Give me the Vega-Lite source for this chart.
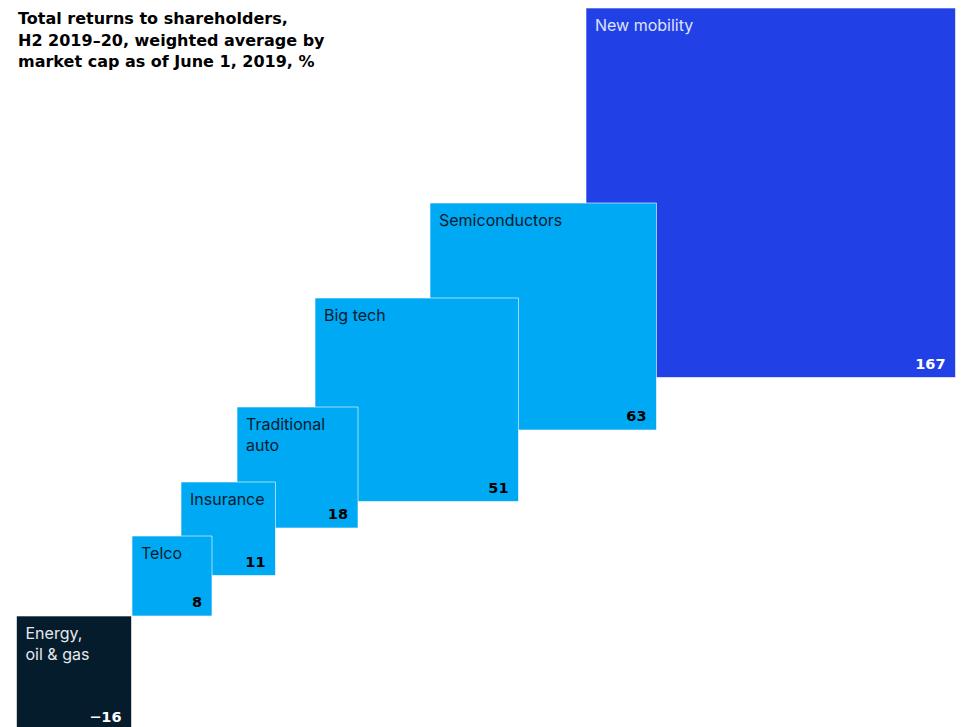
{
  "$schema": "https://vega.github.io/schema/vega-lite/v6.json",
  "width": 962,
  "height": 727,
  "padding": 0,
  "autosize": {"type": "none"},
  "background": "#ffffff",
  "config": {"view": {"stroke": null}, "font": "Inter"},
  "title": {
    "text": ["Total returns to shareholders,", "H2 2019–20, weighted average by", "market cap as of June 1, 2019, %"],
    "anchor": "start",
    "frame": "group",
    "font": "DejaVu Sans",
    "fontSize": 16,
    "fontWeight": "bold",
    "color": "#000000",
    "lineHeight": 21.5,
    "offset": 0,
    "dx": 18,
    "dy": 70
  },
  "data": {
    "values": [
      {"sector": "New mobility", "label": "New mobility", "value": 167, "x0": 58.6, "x1": 95.55, "y0": 34.95, "y1": 71.9},
      {"sector": "Semiconductors", "label": "Semiconductors", "value": 63, "x0": 43.0, "x1": 65.65, "y0": 29.7, "y1": 52.4},
      {"sector": "Big tech", "label": "Big tech", "value": 51, "x0": 31.5, "x1": 51.85, "y0": 22.55, "y1": 42.9},
      {"sector": "Traditional auto", "label": "Traditional\nauto", "value": 18, "x0": 23.7, "x1": 35.8, "y0": 19.9, "y1": 32.0},
      {"sector": "Insurance", "label": "Insurance", "value": 11, "x0": 18.1, "x1": 27.55, "y0": 15.15, "y1": 24.5},
      {"sector": "Telco", "label": "Telco", "value": 8, "x0": 13.2, "x1": 21.2, "y0": 11.1, "y1": 19.1},
      {"sector": "Energy, oil & gas", "label": "Energy,\noil & gas", "value": -16, "x0": 1.65, "x1": 13.15, "y0": -0.4, "y1": 11.1}
    ]
  },
  "resolve": {"scale": {"color": "independent"}},
  "layer": [
    {
      "mark": {"type": "rect", "stroke": "#ffffff", "strokeWidth": 1, "strokeOpacity": 0.6, "clip": true},
      "encoding": {
        "x": {"field": "x0", "type": "quantitative", "scale": {"domain": [0, 96.2], "nice": false, "zero": false}, "axis": null},
        "x2": {"field": "x1"},
        "y": {"field": "y0", "type": "quantitative", "scale": {"domain": [0, 72.7], "nice": false, "zero": false}, "axis": null},
        "y2": {"field": "y1"},
        "color": {
          "field": "sector", "type": "nominal", "legend": null,
          "scale": {
            "domain": ["New mobility", "Semiconductors", "Big tech", "Traditional auto", "Insurance", "Telco", "Energy, oil & gas"],
            "range": ["#2140e6", "#00a9f4", "#00a9f4", "#00a9f4", "#00a9f4", "#00a9f4", "#051c2c"]
          }
        }
      }
    },
    {
      "mark": {"type": "text", "align": "left", "baseline": "top", "dx": 9, "dy": 9.5, "fontSize": 16, "lineBreak": "\n", "lineHeight": 21.5},
      "encoding": {
        "x": {"field": "x0", "type": "quantitative"},
        "y": {"field": "y1", "type": "quantitative"},
        "text": {"field": "label"},
        "color": {
          "field": "sector", "type": "nominal", "legend": null,
          "scale": {
            "domain": ["New mobility", "Semiconductors", "Big tech", "Traditional auto", "Insurance", "Telco", "Energy, oil & gas"],
            "range": ["#dfe3fb", "#051c2c", "#051c2c", "#051c2c", "#051c2c", "#051c2c", "#e6e9ec"]
          }
        }
      }
    },
    {
      "mark": {"type": "text", "align": "right", "baseline": "alphabetic", "dx": -10, "dy": -9, "font": "DejaVu Sans", "fontSize": 14.5, "fontWeight": "bold"},
      "encoding": {
        "x": {"field": "x1", "type": "quantitative"},
        "y": {"field": "y0", "type": "quantitative"},
        "text": {"field": "value", "type": "quantitative", "format": "d"},
        "color": {
          "field": "sector", "type": "nominal", "legend": null,
          "scale": {
            "domain": ["New mobility", "Semiconductors", "Big tech", "Traditional auto", "Insurance", "Telco", "Energy, oil & gas"],
            "range": ["#ffffff", "#000000", "#000000", "#000000", "#000000", "#000000", "#ffffff"]
          }
        }
      }
    }
  ]
}
